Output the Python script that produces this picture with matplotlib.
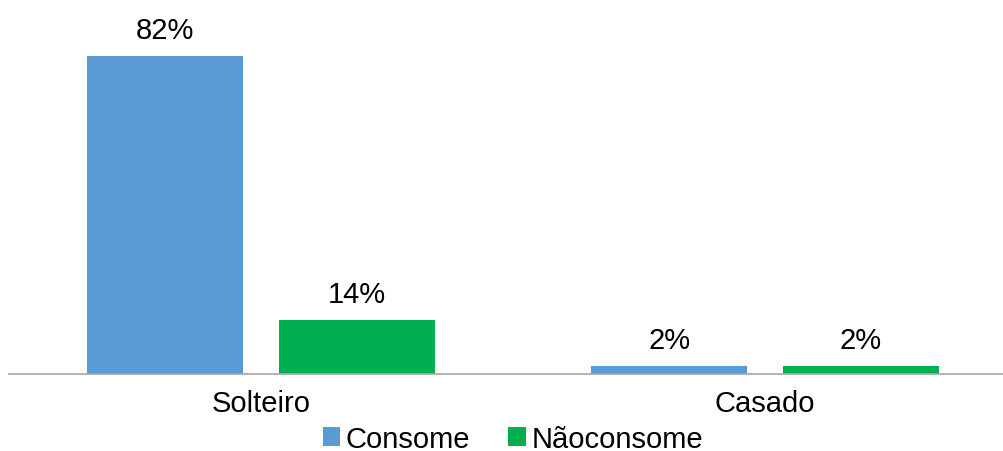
import numpy as np
import matplotlib.pyplot as plt

plt.rcParams['font.family'] = ['Liberation Sans', 'DejaVu Sans']

categories = ['Solteiro', 'Casado']
series = ['Consome', 'Nãoconsome']
consome = [82, 2]
nao_consome = [14, 2]
colors = ['#5b9bd5', '#00b050']

fig = plt.figure(figsize=(10.04, 4.52), dpi=100)
# axes span from the left margin to the figure's right edge, baseline near the bottom
ax = fig.add_axes([9 / 1004, 77 / 452, 995 / 1004, 375 / 452])

x = np.arange(len(categories))
width = 0.31
offset = 0.19
b1 = ax.bar(x - offset, consome, width, color=colors[0], label=series[0])
b2 = ax.bar(x + offset, nao_consome, width, color=colors[1], label=series[1])

for bars, vals in [(b1, consome), (b2, nao_consome)]:
    for bar, v in zip(bars, vals):
        ax.text(bar.get_x() + bar.get_width() / 2, v + 3.1, f'{v}%',
                ha='center', va='bottom', fontsize=21)

ax.set_xlim(-0.5, 1.474)
ax.set_ylim(0, 82 * 375 / 318)
ax.set_xticks(x)
ax.set_xticklabels(categories, fontsize=21)
ax.tick_params(axis='x', length=0, pad=11)
ax.set_yticks([])
for side in ['left', 'right', 'top']:
    ax.spines[side].set_visible(False)
ax.spines['bottom'].set_color('#a6a6a6')
ax.spines['bottom'].set_linewidth(1.2)

fig.legend(handles=[b1, b2], labels=series, loc='center', bbox_to_anchor=(513 / 1004, 12 / 452),
           ncol=2, frameon=False, fontsize=21, handlelength=0.6, handleheight=0.6,
           handletextpad=0.2, columnspacing=1.3, borderpad=0)

fig.savefig('out.png', dpi=100)
